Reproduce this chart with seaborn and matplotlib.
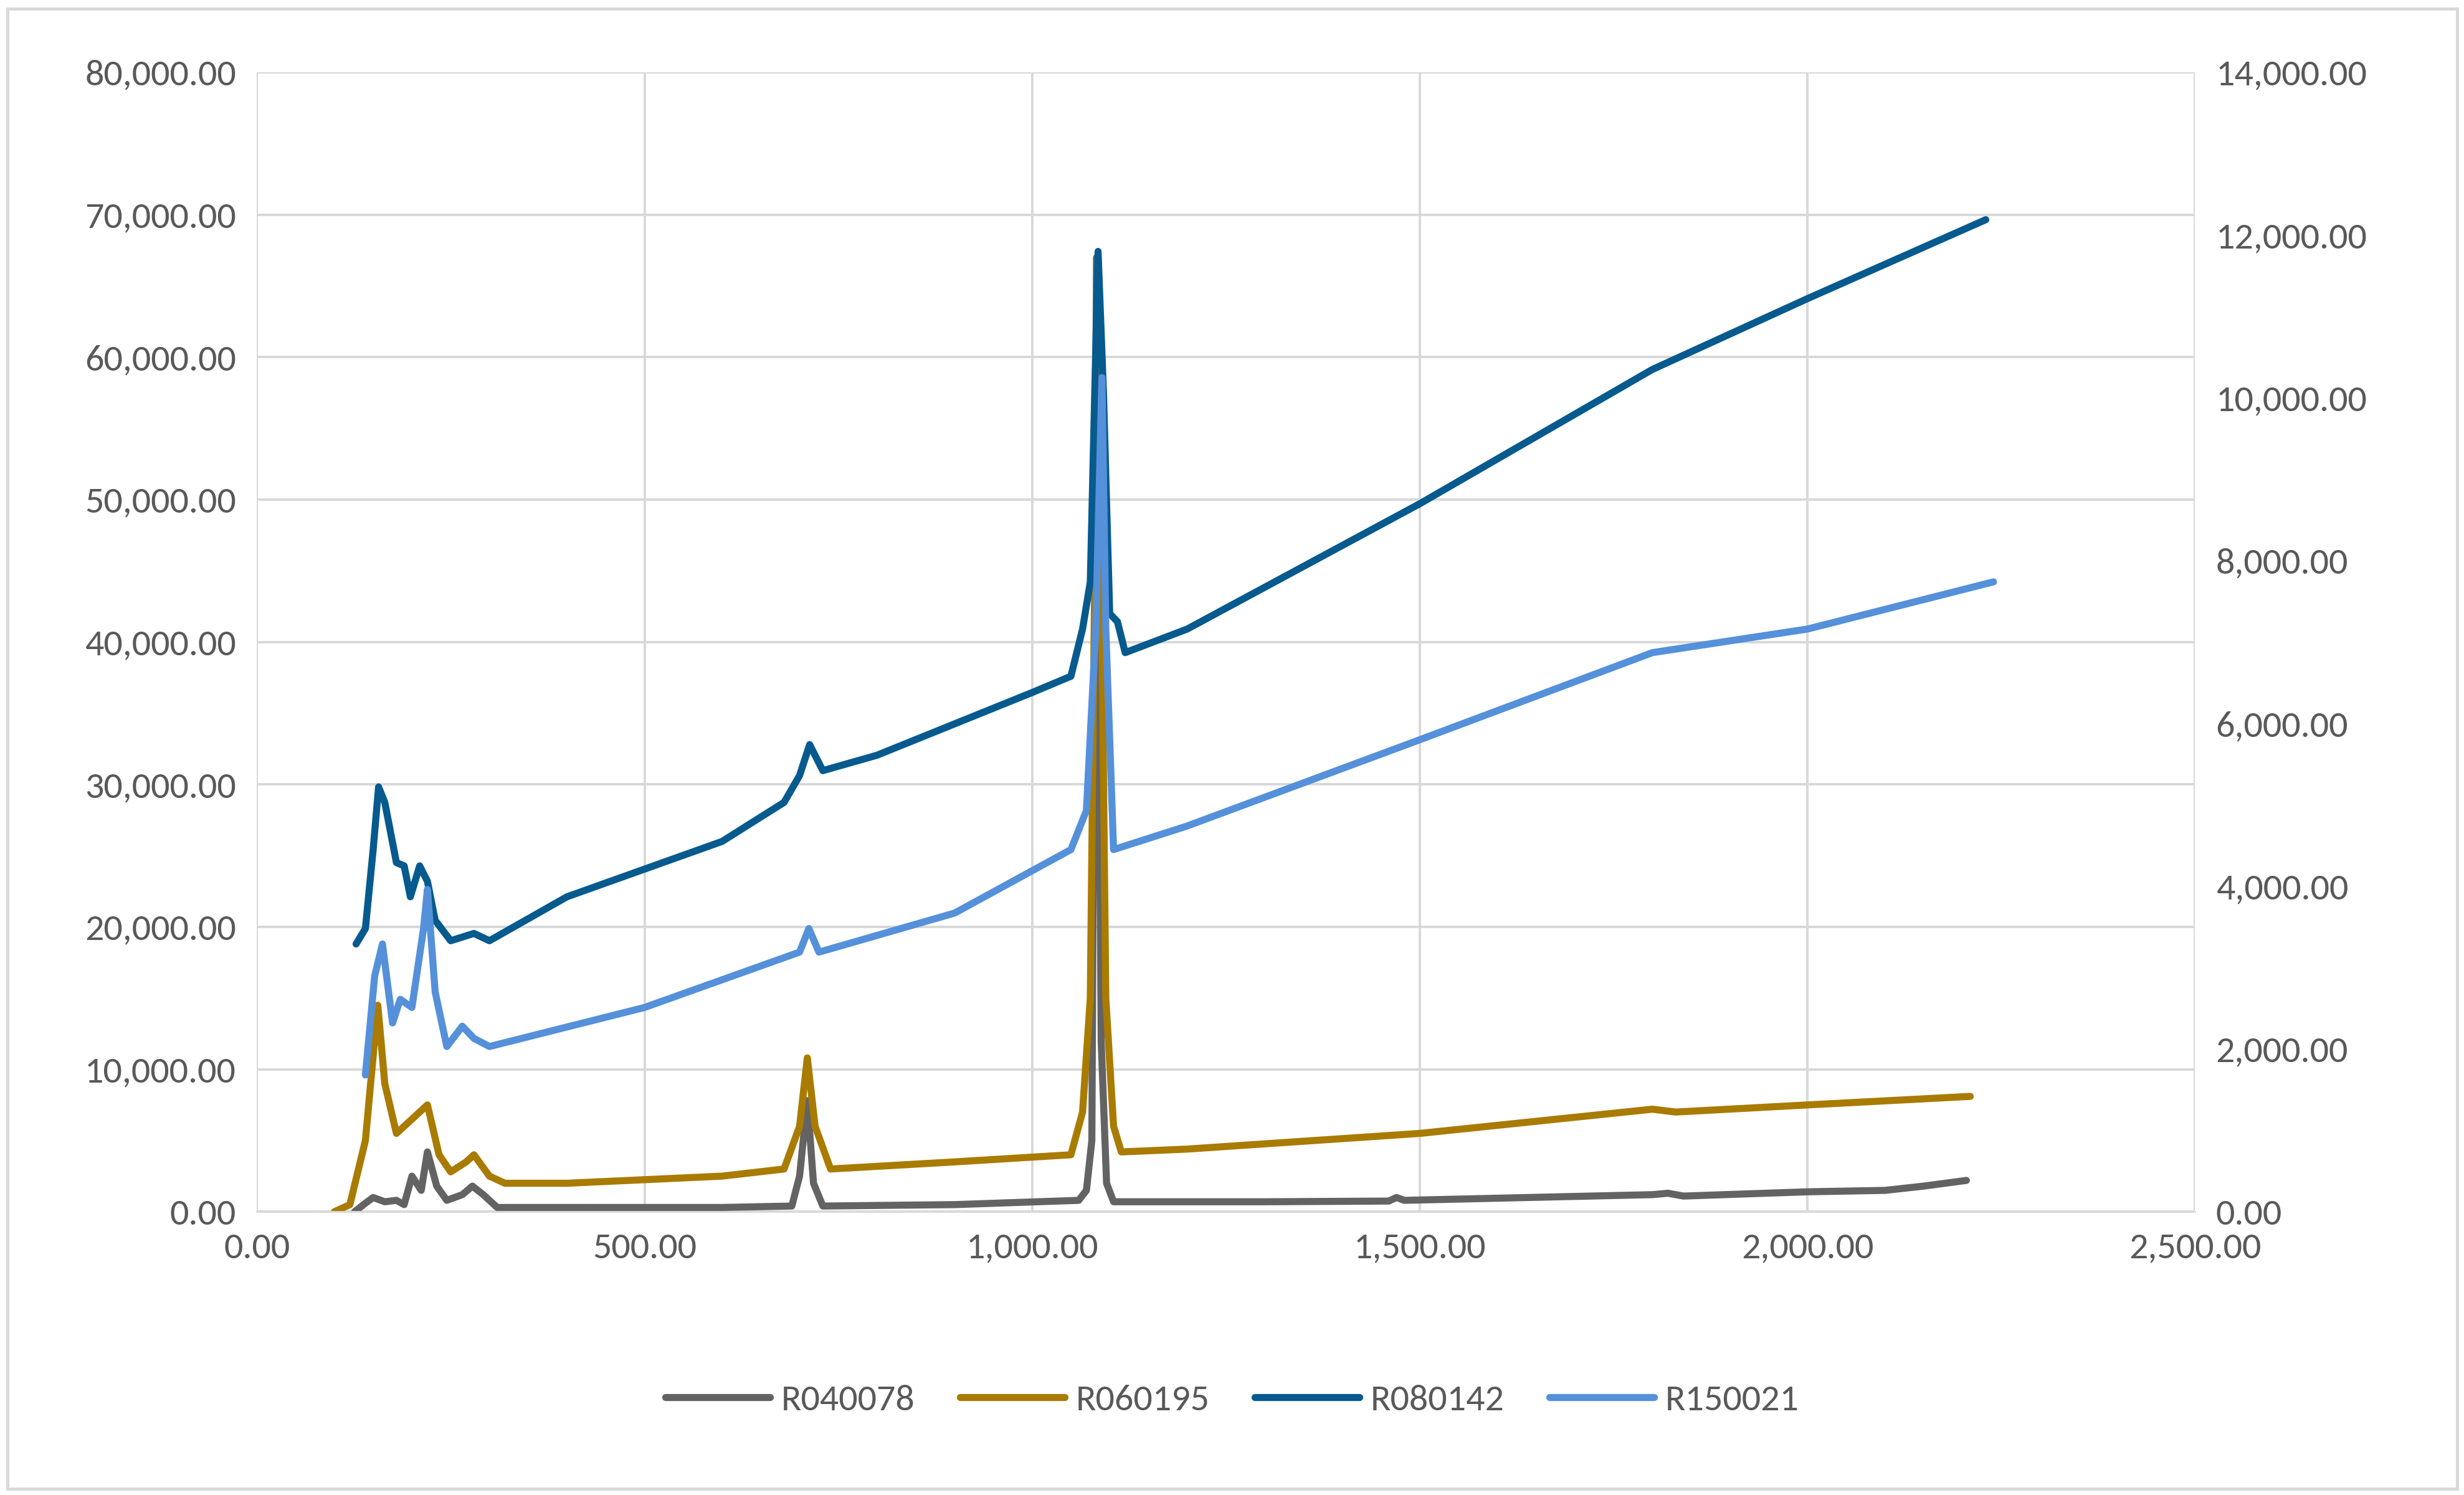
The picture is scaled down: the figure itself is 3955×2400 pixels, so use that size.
import pandas as pd
import matplotlib.pyplot as plt
import seaborn as sns
from matplotlib.ticker import FuncFormatter, MultipleLocator

# R040078 / R060195 on left axis
x_r040078 = [126, 140, 150, 165, 180, 190, 200, 212, 220, 232, 245, 265, 278, 292, 310, 400, 600, 690, 700, 710, 718, 730,
             900, 1060, 1070, 1077, 1083, 1089, 1096, 1105, 1300, 1460, 1470, 1480, 1800, 1820, 1840, 2000, 2100, 2150, 2205]
y_r040078 = [0, 600, 1000, 700, 800, 500, 2500, 1500, 4200, 1800, 800, 1200, 1800, 1200, 300, 300, 300, 400, 2500, 7800, 2000, 400,
             500, 800, 1500, 5000, 67000, 12000, 2000, 700, 700, 750, 1000, 800, 1200, 1300, 1100, 1400, 1500, 1800, 2200]
x_r060195 = [100, 120, 140, 156, 165, 180, 200, 220, 235, 250, 270, 280, 300, 320, 400, 600, 680, 700, 710, 720, 740, 900,
             1050, 1065, 1075, 1085, 1095, 1105, 1115, 1200, 1500, 1800, 1830, 2000, 2210]
y_r060195 = [0, 500, 5000, 14500, 9000, 5500, 6500, 7500, 4000, 2800, 3500, 4000, 2500, 2000, 2000, 2500, 3000, 6000, 10800, 6000, 3000, 3500,
             4000, 7000, 15000, 67000, 15000, 6000, 4200, 4400, 5500, 7200, 7000, 7500, 8100]

# R080142 / R150021 on right axis
x_r080142 = [128, 140, 150, 157, 165, 180, 190, 198, 210, 220, 230, 250, 280, 300, 400, 600, 680, 700, 713, 730, 800, 1000,
             1050, 1065, 1075, 1085, 1092, 1100, 1110, 1120, 1200, 1500, 1800, 2000, 2230]
y_r080142 = [3290, 3480, 4450, 5220, 5030, 4290, 4250, 3870, 4250, 4060, 3580, 3330, 3420, 3330, 3870, 4550, 5030, 5360, 5740, 5420, 5610, 6380,
             6580, 7160, 7740, 11800, 10060, 7350, 7250, 6870, 7160, 8700, 10350, 11220, 12190]
x_r150021 = [140, 152, 162, 175, 185, 200, 215, 220, 230, 245, 265, 280, 300, 500, 700, 712, 725, 900, 1050, 1070, 1082, 1090,
             1095, 1105, 1200, 1500, 1800, 2000, 2240]
y_r150021 = [1680, 2900, 3290, 2320, 2610, 2510, 3480, 3960, 2700, 2030, 2280, 2130, 2030, 2510, 3190, 3480, 3190, 3670, 4450, 4930, 7160, 10250,
             7160, 4450, 4740, 5800, 6870, 7160, 7740]

colors = {"R040078": "#636363", "R060195": "#A97B00", "R080142": "#065A8E", "R150021": "#5590DA"}

sns.set_style("white")
plt.rcParams["font.family"] = ["Calibri", "Carlito", "Liberation Sans", "DejaVu Sans"]

fig = plt.figure(figsize=(16.483, 10), dpi=240)
ax = fig.add_axes([163 / 1564, 1 - 770 / 950, (1393 - 163) / 1564, (770 - 46) / 950])
ax2 = ax.twinx()

left = pd.concat([pd.DataFrame({"x": x_r040078, "y": y_r040078, "s": "R040078"}),
                  pd.DataFrame({"x": x_r060195, "y": y_r060195, "s": "R060195"})])
right = pd.concat([pd.DataFrame({"x": x_r080142, "y": y_r080142, "s": "R080142"}),
                   pd.DataFrame({"x": x_r150021, "y": y_r150021, "s": "R150021"})])

sns.lineplot(data=left, x="x", y="y", hue="s", palette=colors, sort=False, lw=3.4, ax=ax, legend=False)
sns.lineplot(data=right, x="x", y="y", hue="s", palette=colors, sort=False, lw=3.4, ax=ax2, legend=False)

fmt = FuncFormatter(lambda v, p: f"{v:,.2f}")
ax.set_xlim(0, 2500)
ax.set_ylim(0, 80000)
ax2.set_ylim(0, 14000)
ax.xaxis.set_major_locator(MultipleLocator(500))
ax.yaxis.set_major_locator(MultipleLocator(10000))
ax2.yaxis.set_major_locator(MultipleLocator(2000))
for a in (ax.xaxis, ax.yaxis, ax2.yaxis):
    a.set_major_formatter(fmt)
ax.grid(True, color="#D9D9D9", lw=1.2)
ax.set_xlabel("")
ax.set_ylabel("")
ax2.set_ylabel("")
for a in (ax, ax2):
    for sp in a.spines.values():
        sp.set_visible(False)
    a.spines["bottom"].set_visible(True)
    a.spines["bottom"].set_color("#D9D9D9")
    a.tick_params(labelsize=18, labelcolor="#595959", length=0, pad=10)

handles = [plt.Line2D([], [], color=c, lw=3.4) for c in colors.values()]
fig.legend(handles, list(colors.keys()), loc="center", bbox_to_anchor=(0.5, 1 - 890 / 950), ncol=4,
           frameon=False, fontsize=18, labelcolor="#595959", handlelength=2.8, handletextpad=0.3, columnspacing=1.2)

fig.patches.append(plt.Rectangle((0.003, 0.004), 0.994, 0.99, transform=fig.transFigure,
                                 fill=False, edgecolor="#D9D9D9", lw=1.5))
fig.savefig("out.png")
